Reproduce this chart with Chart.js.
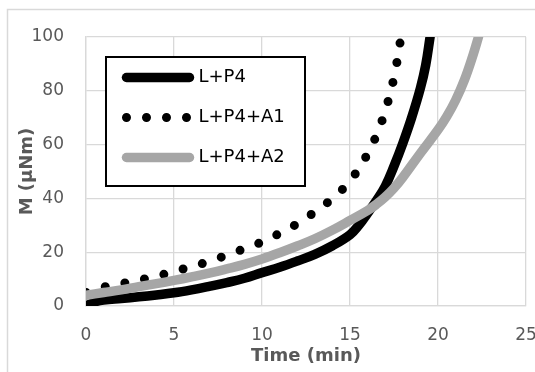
<!DOCTYPE html>
<html>
<head>
<meta charset="utf-8">
<script src="https://cdn.jsdelivr.net/npm/chart.js@4.4.1/dist/chart.umd.min.js"></script>
<style>
html,body{margin:0;padding:0;background:#fff;}
canvas{display:block;}
</style>
</head>
<body>
<canvas id="c" width="535" height="372"></canvas>
<script>
// ---- data ----
const seriesLabels = ['L+P4', 'L+P4+A1', 'L+P4+A2'];

const timeP4 = [0, 0.5, 1, 2, 3, 4, 5, 6, 7, 8, 9, 10, 11, 12, 13, 14, 15, 15.5, 16, 16.5, 17, 17.5, 18, 18.5, 19, 19.3, 19.55];
const mP4    = [0, 1.5, 2.2, 2.8, 3.4, 4.1, 4.9, 6.0, 7.3, 8.7, 10.3, 12.4, 14.4, 16.7, 19.2, 22.4, 26.5, 30.0, 34.5, 39.2, 44.5, 52.0, 60.5, 70.0, 81.0, 89.5, 100];

const timeA1 = [0, 1, 2, 3, 4, 5, 6, 7, 8, 9, 10, 11, 12, 13, 14, 15, 16, 16.5, 17, 17.5, 17.9];
const mA1    = [5, 7, 8.3, 9.6, 11, 12.9, 14.6, 16.6, 18.9, 21.3, 23.8, 27, 30.6, 35, 40, 46.5, 56.5, 63.5, 72.5, 85, 100];

const timeA2 = [0, 1, 2, 3, 4, 5, 6, 7, 8, 9, 10, 11, 12, 13, 14, 15, 16, 16.5, 17, 17.5, 18, 19, 20, 20.5, 21, 21.5, 22, 22.3];
const mA2    = [4, 5, 6, 7.2, 8.3, 9.5, 10.8, 12.2, 13.8, 15.5, 17.5, 19.8, 22.3, 25.0, 28.2, 31.8, 35.5, 37.8, 40.5, 43.8, 47.8, 56.8, 65.5, 70.5, 76.5, 84.0, 93.5, 100];

const xTicks = [0, 5, 10, 15, 20, 25];
const yTicks = [0, 20, 40, 60, 80, 100];

const xTitle = 'Time (min)';
const yTitle = 'M (µNm)';

// ---- helpers ----
const pts = (xs, ys) => xs.map((x, i) => ({x: x, y: ys[i]}));

const TICK_COLOR = '#595959';
const GRID_COLOR = '#d9d9d9';
const FONT = 'DejaVu Sans';

const lineBase = {
  pointRadius: 0,
  pointHoverRadius: 0,
  fill: false,
  borderCapStyle: 'round',
  borderJoinStyle: 'round',
  tension: 0.4,
  clip: 0
};

// order: gray drawn on top (like the original), legend order kept by custom labels
const datasets = [
  Object.assign({}, lineBase, {label: seriesLabels[0], data: pts(timeP4, mP4), borderColor: '#000000', backgroundColor: '#000000', borderWidth: 9.5, order: 2}),
  Object.assign({}, lineBase, {label: seriesLabels[1], data: pts(timeA1, mA1), borderColor: '#000000', backgroundColor: '#000000', borderWidth: 9, borderDash: [0, 20], order: 1}),
  Object.assign({}, lineBase, {label: seriesLabels[2], data: pts(timeA2, mA2), borderColor: '#a6a6a6', backgroundColor: '#a6a6a6', borderWidth: 9.5, order: 0})
];

// outer chart frame + background
const framePlugin = {
  id: 'frame',
  beforeDraw(chart) {
    const ctx = chart.ctx;
    ctx.save();
    ctx.fillStyle = '#ffffff';
    ctx.fillRect(0, 0, chart.width, chart.height);
    ctx.strokeStyle = GRID_COLOR;
    ctx.lineWidth = 1.5;
    ctx.strokeRect(7.5, 9.5, 600, 500);
    ctx.restore();
  }
};

// legend placed inside the plot area with white box + black border
const LEG = {boxLeft: 106, boxTop: 57, boxRight: 305, boxBottom: 186, itemsLeft: 104.5, itemsTop: 46.5};
const legendInside = {
  id: 'legendInside',
  afterUpdate(chart) {
    const lg = chart.legend;
    if (!lg) return;
    lg.left = LEG.itemsLeft;
    lg.top = LEG.itemsTop;
    lg.right = lg.left + lg.width;
    lg.bottom = lg.top + lg.height;
    if (lg.adjustHitBoxes) lg.adjustHitBoxes();
  },
  afterDatasetsDraw(chart) {
    const ctx = chart.ctx;
    ctx.save();
    ctx.fillStyle = '#ffffff';
    ctx.fillRect(LEG.boxLeft, LEG.boxTop, LEG.boxRight - LEG.boxLeft, LEG.boxBottom - LEG.boxTop);
    ctx.strokeStyle = '#000000';
    ctx.lineWidth = 2;
    ctx.strokeRect(LEG.boxLeft, LEG.boxTop, LEG.boxRight - LEG.boxLeft, LEG.boxBottom - LEG.boxTop);
    ctx.restore();
    if (chart.legend) chart.legend.draw();
  }
};

new Chart(document.getElementById('c'), {
  type: 'line',
  data: {datasets: datasets},
  options: {
    responsive: false,
    animation: false,
    devicePixelRatio: 1,
    events: [],
    layout: {padding: {top: 37, right: 9, bottom: 0, left: 0}},
    plugins: {
      tooltip: {enabled: false},
      title: {display: false},
      legend: {
        display: true,
        position: 'chartArea',
        align: 'start',
        labels: {
          usePointStyle: true,
          pointStyleWidth: 63,
          padding: 22,
          color: '#000000',
          font: {family: FONT, size: 18},
          generateLabels(chart) {
            return chart.data.datasets.map((ds, i) => ({
              text: ds.label,
              fillStyle: ds.borderColor,
              strokeStyle: ds.borderColor,
              fontColor: '#000000',
              lineWidth: ds.borderWidth,
              lineCap: 'round',
              lineJoin: 'round',
              lineDash: ds.borderDash || [],
              lineDashOffset: 0,
              pointStyle: 'line',
              rotation: 0,
              hidden: false,
              datasetIndex: i
            }));
          }
        }
      }
    },
    scales: {
      x: {
        type: 'linear',
        min: xTicks[0],
        max: xTicks[xTicks.length - 1],
        ticks: {stepSize: xTicks[1] - xTicks[0], color: TICK_COLOR, font: {family: FONT, size: 17}, padding: 19, maxRotation: 0},
        grid: {color: GRID_COLOR, lineWidth: 1.3, drawTicks: false},
        border: {display: true, color: GRID_COLOR, width: 1.3},
        title: {display: true, text: xTitle, color: TICK_COLOR, font: {family: FONT, size: 18, weight: 'bold'}, padding: {top: 0, bottom: 5}},
        afterFit(scale) { scale.height = 66; scale.paddingLeft = 0; scale.paddingRight = 0; }
      },
      y: {
        type: 'linear',
        min: yTicks[0],
        max: yTicks[yTicks.length - 1],
        ticks: {stepSize: yTicks[1] - yTicks[0], color: TICK_COLOR, font: {family: FONT, size: 17}, padding: 22},
        grid: {color: GRID_COLOR, lineWidth: 1.3, drawTicks: false},
        border: {display: true, color: GRID_COLOR, width: 1.3},
        title: {display: true, text: yTitle, color: TICK_COLOR, font: {family: FONT, size: 18, weight: 'bold'}, padding: {top: 17, bottom: 0}},
        afterFit(scale) { scale.width = 86; }
      }
    }
  },
  plugins: [framePlugin, legendInside]
});
</script>
</body>
</html>
